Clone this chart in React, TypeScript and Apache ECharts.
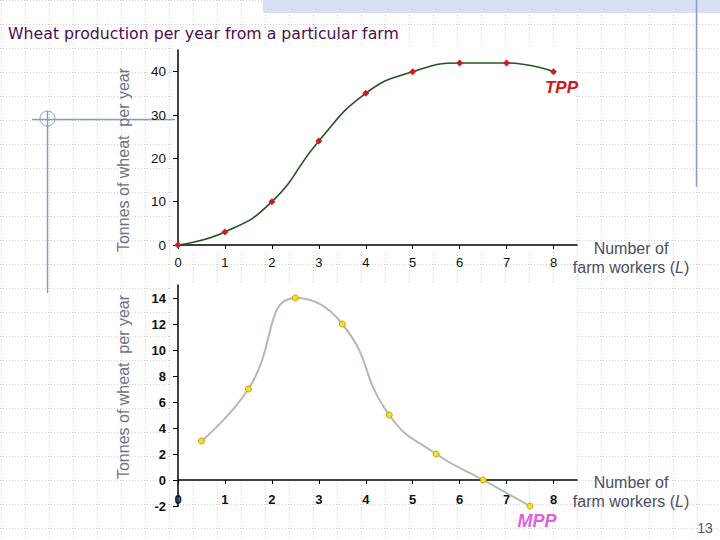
import React, { useEffect, useRef } from "react";
import * as echarts from "echarts";

const tppWorkers = [0, 1, 2, 3, 4, 5, 6, 7, 8];
const tppTonnes = [0, 3, 10, 24, 35, 40, 42, 42, 40];
const mppWorkers = [0.5, 1.5, 2.5, 3.5, 4.5, 5.5, 6.5, 7.5];
const mppTonnes = [3, 7, 14, 12, 5, 2, 0, -2];
const xTicks = [0, 1, 2, 3, 4, 5, 6, 7, 8];
const tppTicks = [0, 10, 20, 30, 40];
const mppTicks = [-2, 0, 2, 4, 6, 8, 10, 12, 14];

const titleText = "Wheat production per year from a particular farm";
const yTitle = "Tonnes of wheat  per year";

export default function App() {
  const ref = useRef<HTMLDivElement>(null);
  useEffect(() => {
    if (!ref.current) return;
    const chart = echarts.init(ref.current, undefined, { renderer: "svg" });

    const bg: any[] = [];
    for (let x = 1; x <= 720; x += 24) {
      bg.push({
        type: "line", z: -20, silent: true,
        shape: { x1: x + 0.5, y1: 0, x2: x + 0.5, y2: 540 },
        style: { stroke: "#d2d2d2", lineWidth: 1, lineDash: [1, 2] },
      });
    }
    for (let y = 0; y <= 540; y += 24) {
      bg.push({
        type: "line", z: -20, silent: true,
        shape: { x1: 0, y1: y + 0.5, x2: 720, y2: y + 0.5 },
        style: { stroke: "#d2d2d2", lineWidth: 1, lineDash: [1, 2] },
      });
    }

    const deco = "#8c9bc6";
    const numberLabel = {
      rich: {
        n: { fontFamily: "Liberation Sans", fontSize: 16, fill: "#4a4f60" },
        i: { fontFamily: "Liberation Sans", fontSize: 16, fontStyle: "italic", fill: "#4a4f60" },
      },
    };

    const graphic: any[] = [
      ...bg,
      { type: "rect", z: -10, silent: true, shape: { x: 263, y: 0, width: 457, height: 13 }, style: { fill: "#d7dff0" } },
      { type: "rect", z: -10, silent: true, shape: { x: 172, y: 47, width: 404, height: 203 }, style: { fill: "#ffffff" } },
      { type: "rect", z: -10, silent: true, shape: { x: 170, y: 284, width: 407, height: 199 }, style: { fill: "#ffffff" } },
      { type: "line", z: -5, silent: true, shape: { x1: 696.5, y1: 0, x2: 696.5, y2: 187 }, style: { stroke: deco, lineWidth: 1.5 } },
      { type: "line", z: -5, silent: true, shape: { x1: 32, y1: 119.5, x2: 175, y2: 119.5 }, style: { stroke: deco, lineWidth: 1.5 } },
      { type: "line", z: -5, silent: true, shape: { x1: 47.5, y1: 111, x2: 47.5, y2: 293 }, style: { stroke: deco, lineWidth: 1.5 } },
      { type: "circle", z: -5, silent: true, shape: { cx: 47.5, cy: 118.5, r: 7.5 }, style: { fill: "none", stroke: deco, lineWidth: 1 } },
      {
        type: "text", x: 8, y: 33,
        style: { text: titleText, fontFamily: "DejaVu Sans", fontSize: 15.75, fill: "#4e0c52", textVerticalAlign: "middle" },
      },
      {
        type: "text", x: 123, y: 160, rotation: Math.PI / 2,
        style: { text: yTitle, fontFamily: "Liberation Sans", fontSize: 16, fill: "#6d7386", textAlign: "center", textVerticalAlign: "middle" },
      },
      {
        type: "text", x: 123, y: 387, rotation: Math.PI / 2,
        style: { text: yTitle, fontFamily: "Liberation Sans", fontSize: 16, fill: "#6d7386", textAlign: "center", textVerticalAlign: "middle" },
      },
      {
        type: "text", x: 631, y: 258,
        style: { text: "{n|Number of}\n{n|farm workers (}{i|L}{n|)}", ...numberLabel, textAlign: "center", textVerticalAlign: "middle", lineHeight: 19 },
      },
      {
        type: "text", x: 631, y: 492,
        style: { text: "{n|Number of}\n{n|farm workers (}{i|L}{n|)}", ...numberLabel, textAlign: "center", textVerticalAlign: "middle", lineHeight: 19 },
      },
      {
        type: "text", x: 561.5, y: 87,
        style: { text: "TPP", fontFamily: "Liberation Sans", fontSize: 17, fontWeight: "bold", fontStyle: "italic", fill: "#d41414", textAlign: "center", textVerticalAlign: "middle" },
      },
      {
        type: "text", x: 537, y: 521,
        style: { text: "MPP", fontFamily: "Liberation Sans", fontSize: 18, fontWeight: "bold", fontStyle: "italic", fill: "#de5fe0", textAlign: "center", textVerticalAlign: "middle" },
      },
      {
        type: "text", x: 705, y: 528,
        style: { text: "13", fontFamily: "Liberation Sans", fontSize: 14, fill: "#555555", textAlign: "center", textVerticalAlign: "middle" },
      },
    ];

    const axisLineStyle = { color: "#000000", width: 1.5 };

    chart.setOption({
      animation: false,
      backgroundColor: "#ffffff",
      grid: [
        { left: 178, right: 143, top: 50, bottom: 295 },
        { left: 178, right: 143, top: 285, bottom: 34 },
      ],
      xAxis: [
        {
          gridIndex: 0, type: "value", min: 0, max: 8.5, interval: 1,
          axisLine: { lineStyle: axisLineStyle },
          axisTick: { length: 4, customValues: xTicks, lineStyle: { color: "#000" } },
          axisLabel: { customValues: xTicks, margin: 11, fontFamily: "Liberation Sans", fontSize: 13, color: "#111" },
          splitLine: { show: false },
        },
        {
          gridIndex: 1, type: "value", min: 0, max: 8.5, interval: 1,
          position: "bottom", offset: -26,
          axisLine: { onZero: false, lineStyle: axisLineStyle },
          axisTick: { length: 4, customValues: xTicks, lineStyle: { color: "#000" } },
          axisLabel: { customValues: xTicks, margin: 13, fontFamily: "Liberation Sans", fontSize: 13, fontWeight: "bold", color: "#111" },
          splitLine: { show: false },
        },
      ],
      yAxis: [
        {
          gridIndex: 0, type: "value", min: 0, max: 45, interval: 10,
          axisLine: { show: true, lineStyle: axisLineStyle },
          axisTick: { show: true, length: 5, customValues: tppTicks, lineStyle: { color: "#000" } },
          axisLabel: { customValues: tppTicks, margin: 12, fontFamily: "Liberation Sans", fontSize: 13.5, color: "#111" },
          splitLine: { show: false },
        },
        {
          gridIndex: 1, type: "value", min: -2, max: 15, interval: 2,
          axisLine: { show: true, lineStyle: axisLineStyle },
          axisTick: { show: true, length: 5, customValues: mppTicks, lineStyle: { color: "#000" } },
          axisLabel: { customValues: mppTicks, margin: 12, fontFamily: "Liberation Sans", fontSize: 13, fontWeight: "bold", color: "#111" },
          splitLine: { show: false },
        },
      ],
      graphic,
      series: [
        {
          type: "line", xAxisIndex: 0, yAxisIndex: 0, smooth: 0.5,
          data: tppWorkers.map((w, i) => [w, tppTonnes[i]]),
          lineStyle: { color: "#22561f", width: 1.6 },
          symbol: "diamond", symbolSize: 7,
          itemStyle: { color: "#d41a1a" },
        },
        {
          type: "line", xAxisIndex: 1, yAxisIndex: 1, smooth: 0.5,
          data: mppWorkers.map((w, i) => [w, mppTonnes[i]]),
          lineStyle: { color: "#aebcae", width: 2 },
          symbol: "circle", symbolSize: 6,
          itemStyle: { color: "#f3e21c", borderColor: "#d69a00", borderWidth: 1 },
        },
      ],
    });
    return () => chart.dispose();
  }, []);
  return (
    <div
      ref={ref}
      style={{ position: "fixed", left: 0, top: 0, width: 720, height: 540 }}
    />
  );
}
